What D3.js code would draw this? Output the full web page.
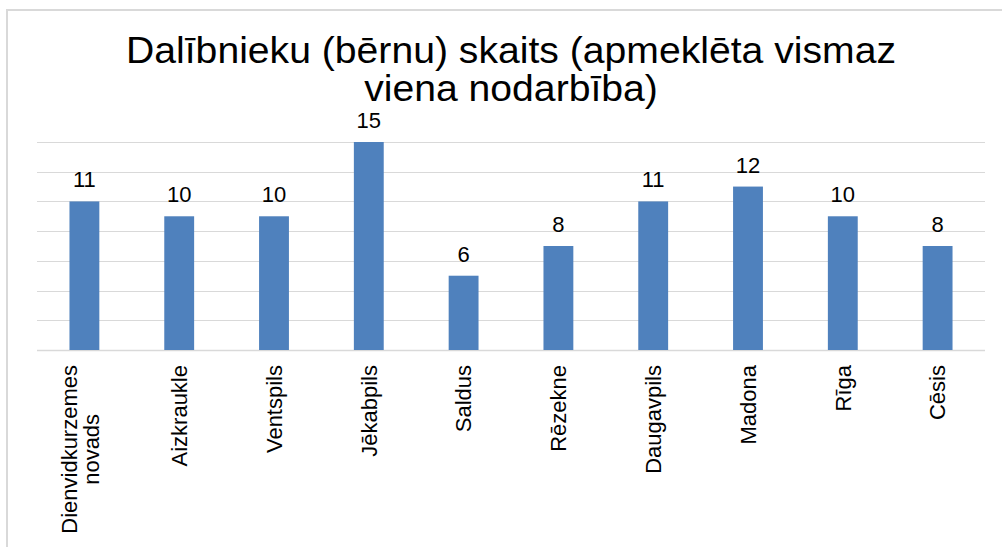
<!DOCTYPE html>
<html>
<head>
<meta charset="utf-8">
<script src="https://cdn.jsdelivr.net/npm/d3@7"></script>
<style>
  body { margin: 0; background: #fff; }
  text { font-family: "Liberation Sans", Arial, sans-serif; fill: #000; }
</style>
</head>
<body>
<div id="chart"></div>
<script>
const categories = ["Dienvidkurzemes novads", "Aizkraukle", "Ventspils", "Jēkabpils", "Saldus",
    "Rēzekne", "Daugavpils", "Madona", "Rīga", "Cēsis"];
const values = [11, 10, 10, 15, 6, 8, 11, 12, 10, 8];
const gridTicks = [1, 3, 5, 7, 9, 11, 13, 15];
const titleLines = ["Dalībnieku (bērnu) skaits (apmeklēta vismaz", "viena nodarbība)"];

const width = 1002, height = 547;
const plot = {left: 37, right: 985, top: 142, bottom: 350};

const svg = d3.select("#chart").append("svg")
    .attr("width", width)
    .attr("height", height);

//outer chart frame (only left and top edges show)
svg.append("rect")
    .attr("x", 7).attr("y", 10)
    .attr("width", 1200).attr("height", 800)
    .attr("fill", "none")
    .attr("stroke", "#d9d9d9")
    .attr("stroke-width", 2);

//title, stretched a bit sideways like the original render
svg.append("g")
    .attr("transform", "translate(511,0) scale(1.058,1)")
    .selectAll("text")
    .data(titleLines)
    .enter()
    .append("text")
    .attr("x", 0)
    .attr("y", (d, i) => 63 + i * 38)
    .attr("text-anchor", "middle")
    .style("font-size", "37px")
    .text(d => d);

var x = d3.scaleBand()
    .domain(categories)
    .range([plot.left, plot.right])
    .paddingInner(0.685)
    .paddingOuter(0.3425);

var y = d3.scaleLinear()
    .domain([1, 15])
    .range([plot.bottom, plot.top]);

//gridlines
svg.append("g").selectAll("line")
    .data(gridTicks)
    .enter()
    .append("line")
    .attr("x1", plot.left)
    .attr("x2", plot.right)
    .attr("y1", d => Math.round(y(d)) + 0.5)
    .attr("y2", d => Math.round(y(d)) + 0.5)
    .attr("stroke", "#d9d9d9")
    .attr("stroke-width", d => d == 1 ? 1.5 : 1);

//bars
svg.append("g").selectAll("rect")
    .data(values)
    .enter()
    .append("rect")
    .attr("x", (d, i) => x(categories[i]))
    .attr("y", d => y(d))
    .attr("width", x.bandwidth())
    .attr("height", d => plot.bottom - y(d))
    .attr("fill", "#4f81bd");

//value labels
svg.append("g").selectAll("text")
    .data(values)
    .enter()
    .append("text")
    .attr("x", (d, i) => x(categories[i]) + x.bandwidth() / 2)
    .attr("y", d => y(d) - 14)
    .attr("text-anchor", "middle")
    .style("font-size", "22px")
    .text(d => d);

//category labels, rotated; long one wraps onto two lines
var catG = svg.append("g").selectAll("text")
    .data(categories)
    .enter()
    .append("text")
    .attr("transform", d => {
        var cx = x(d) + x.bandwidth() / 2;
        return "translate(" + cx + "," + (plot.bottom + 15) + ") rotate(-90)";
    })
    .style("font-size", "22px");

catG.each(function(d) {
    var words = d.split(" ");
    var el = d3.select(this);
    if (words.length == 1) {
        el.attr("text-anchor", "end").attr("dy", "0.35em").text(d);
    } else {
        //measure the longest line so the block ends at the axis side
        el.attr("text-anchor", "middle");
        var probe = svg.append("text").style("font-size", "22px").text(words[0]);
        var w = probe.node().getComputedTextLength();
        probe.remove();
        words.forEach((wd, i) => {
            el.append("tspan")
                .attr("x", -w / 2)
                .attr("y", (i - (words.length - 1) / 2) * 22 - 4)
                .attr("dy", "0.35em")
                .text(wd);
        });
    }
});
</script>
</body>
</html>
